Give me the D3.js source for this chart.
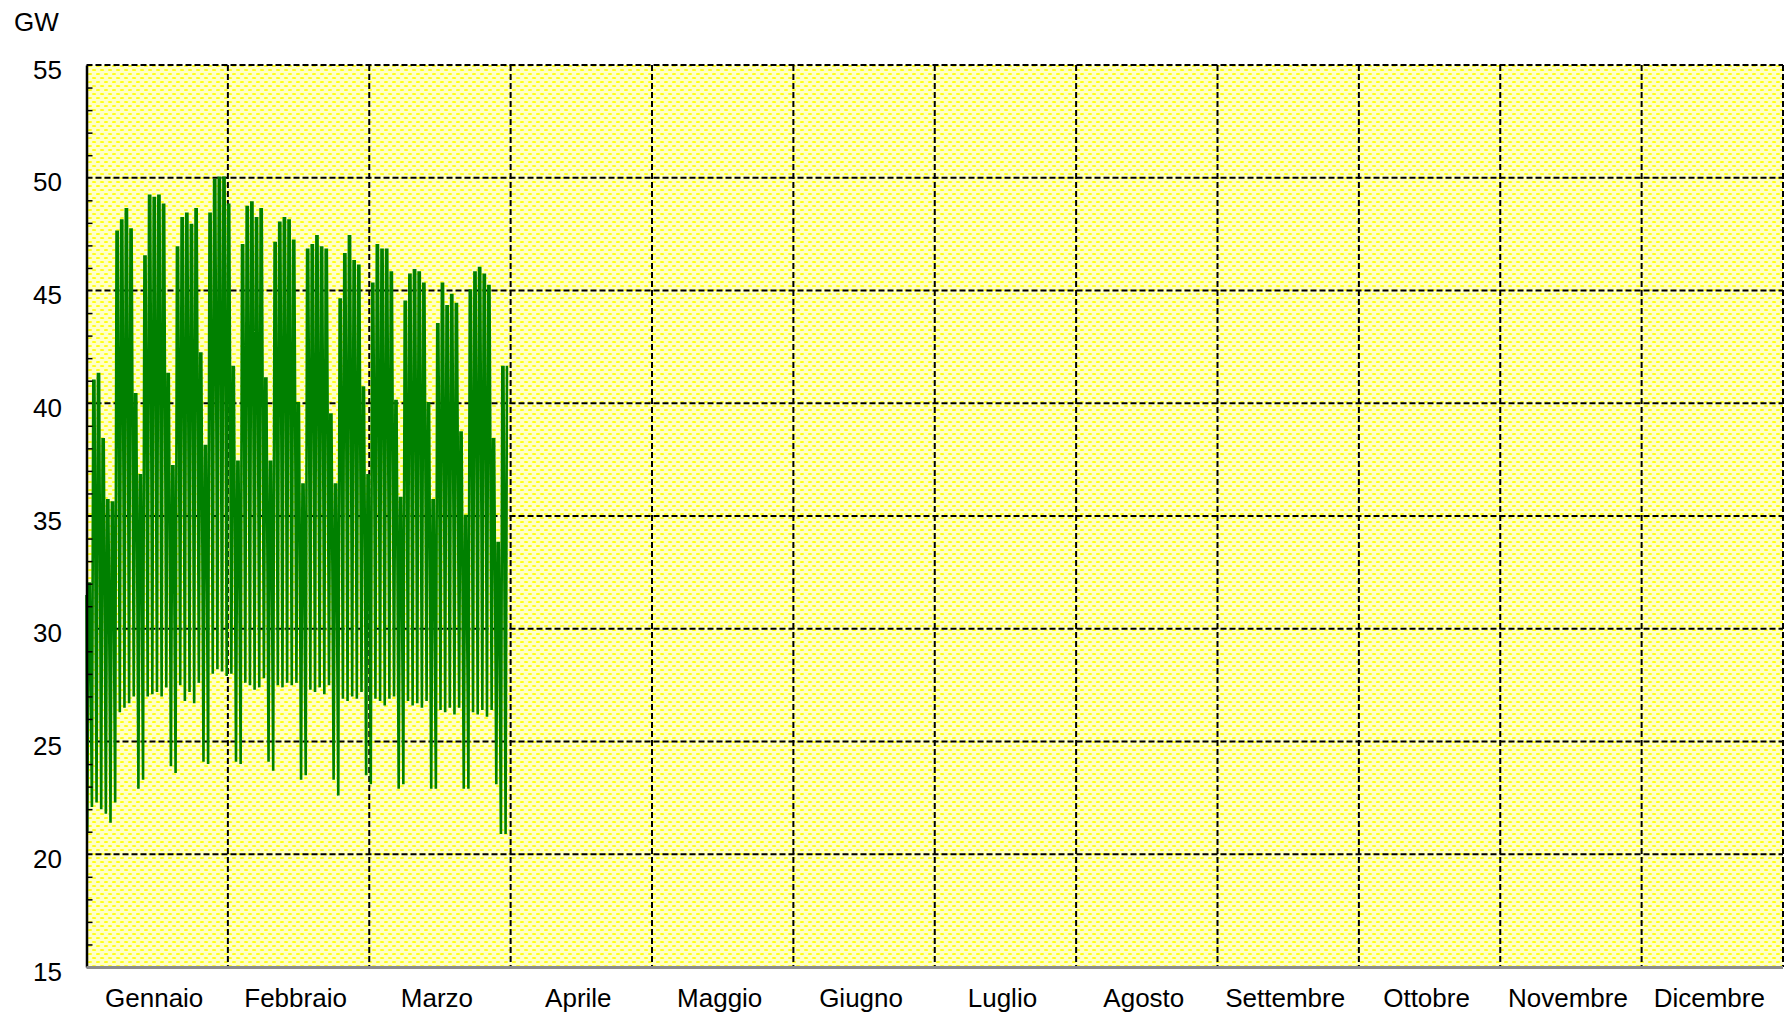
<!DOCTYPE html>
<html>
<head>
<meta charset="utf-8">
<script src="https://cdn.jsdelivr.net/npm/d3@7"></script>
<style>
  html, body { margin: 0; padding: 0; background: #ffffff; }
  svg { display: block; font-family: "Liberation Sans", Arial, sans-serif; }
</style>
</head>
<body>
<svg id="chart" width="1785" height="1015"></svg>
<script>
// Month labels along the x axis (equal-width bands)
const months = ["Gennaio", "Febbraio", "Marzo", "Aprile", "Maggio", "Giugno",
                "Luglio", "Agosto", "Settembre", "Ottobre", "Novembre", "Dicembre"];

// Y axis tick labels (GW)
const yTicks = [15, 20, 25, 30, 35, 40, 45, 50, 55];

// Load at midnight on 1 January (GW)
const startLoad = 31.5;

// Daily maximum load, GW, from 1 January
const dailyPeak = [
  // Gennaio
  32.0, 41.0, 41.3, 38.4, 35.7, 35.6, 47.6, 48.1, 48.6, 47.7, 40.4, 36.8, 46.5, 49.2, 49.1, 49.2,
  48.8, 41.3, 37.2, 46.9, 48.2, 48.4, 47.9, 48.6, 42.2, 38.1, 48.4, 49.9, 50.0, 50.0, 48.8,
  // Febbraio
  41.6, 37.4, 47.0, 48.7, 48.9, 48.2, 48.6, 41.1, 37.4, 47.1, 48.0, 48.2, 48.1, 47.2,
  40.0, 36.4, 46.8, 47.0, 47.4, 46.9, 46.8, 39.5, 36.4, 44.6, 46.6, 47.4, 46.3, 46.1,
  // Marzo
  40.7, 36.8, 45.3, 47.0, 46.8, 46.8, 45.8, 40.1, 35.8, 44.5, 45.7, 45.9, 45.8, 45.3, 40.0, 35.7,
  43.5, 45.3, 44.3, 44.8, 44.4, 38.7, 35.0, 45.0, 45.8, 46.0, 45.7, 45.2, 38.4, 33.8, 41.6,
  // Aprile (partial)
  41.6
];

// Daily minimum (night) load, GW, from 1 January
const dailyLow = [
  // Gennaio
  21.0, 22.1, 22.3, 22.0, 21.8, 21.4, 22.3, 26.3, 26.5, 26.7, 27.0, 22.9, 23.3, 27.0, 27.1, 27.2,
  27.0, 27.4, 23.9, 23.6, 27.5, 26.8, 27.2, 26.7, 27.6, 24.1, 24.0, 28.0, 28.2, 28.1, 27.9,
  // Febbraio
  28.0, 24.1, 24.0, 27.6, 27.5, 27.3, 27.4, 27.8, 24.1, 23.7, 27.5, 27.4, 27.6, 27.5,
  27.6, 23.3, 23.5, 27.3, 27.2, 27.4, 27.1, 27.5, 23.3, 22.6, 26.9, 26.8, 27.0, 26.9,
  // Marzo
  27.2, 23.5, 23.1, 26.9, 26.8, 26.6, 26.9, 27.0, 22.9, 23.1, 26.8, 26.6, 26.7, 26.5, 26.8, 22.9,
  22.9, 26.4, 26.3, 26.5, 26.2, 26.5, 22.9, 22.9, 26.3, 26.2, 26.4, 26.1, 26.4, 23.1, 20.9,
  // Aprile (partial)
  20.9
];

// Hours of the day at which the night minimum and the daytime maximum occur
const lowHour = 4, peakStartHour = 11, peakEndHour = 17;

const svg = d3.select("#chart");
const plot = { left: 86.5, right: 1783, top: 65, bottom: 967 };

const y = d3.scaleLinear().domain([15, 55]).range([plot.bottom, plot.top]);
const xMonth = d3.scaleBand().domain(months).range([plot.left, plot.right]).padding(0);
const xHour = d3.scaleLinear().domain([0, 365 * 24]).range([plot.left, plot.right]);

// Dotted yellow fill of the plotting area
const defs = svg.append("defs");
const pat = defs.append("pattern")
  .attr("id", "dots").attr("patternUnits", "userSpaceOnUse")
  .attr("width", 8).attr("height", 8);
pat.append("rect").attr("width", 8).attr("height", 8).attr("fill", "#ffffc8");
[[2, 2], [6, 6], [-2, 6], [10, 6]].forEach(([cx, cy]) => {
  pat.append("ellipse").attr("cx", cx).attr("cy", cy)
    .attr("rx", 2.2).attr("ry", 1.1).attr("fill", "#ffff10");
});

svg.append("rect")
  .attr("x", plot.left).attr("y", plot.top)
  .attr("width", plot.right - plot.left).attr("height", plot.bottom - plot.top)
  .attr("fill", "url(#dots)");

// Build the load series: start value, then each day's night low and daytime maximum
const series = [{ h: 0, v: startLoad }];
dailyLow.forEach((lo, i) => {
  series.push({ h: i * 24 + lowHour, v: lo });
  series.push({ h: i * 24 + peakStartHour, v: dailyPeak[i] });
  series.push({ h: i * 24 + peakEndHour, v: dailyPeak[i] });
});

const line = d3.line().x(d => xHour(d.h)).y(d => y(d.v));

// Dashed grid: horizontal at each labelled value, vertical at month boundaries
const grid = svg.append("g").attr("stroke", "#000").attr("stroke-width", 2)
  .attr("stroke-dasharray", "6,3").attr("fill", "none");

grid.selectAll("line.h").data(yTicks.filter(v => v > 15)).join("line")
  .attr("class", "h")
  .attr("x1", plot.left).attr("x2", plot.right)
  .attr("y1", d => y(d)).attr("y2", d => y(d));

const boundaries = months.slice(1).map(m => xMonth(m)).concat([plot.right]);
grid.selectAll("line.v").data(boundaries).join("line")
  .attr("class", "v")
  .attr("x1", d => d).attr("x2", d => d)
  .attr("y1", plot.top).attr("y2", plot.bottom);

// Load curve
svg.append("path")
  .datum(series)
  .attr("d", line)
  .attr("fill", "none")
  .attr("stroke", "#008000")
  .attr("stroke-width", 2.6)
  .attr("stroke-linejoin", "miter")
  .attr("stroke-miterlimit", 2);

// Minor ticks inside the left axis, every 1 GW
const minor = d3.range(16, 55).filter(v => v % 5 !== 0);
svg.append("g")
  .attr("transform", `translate(${plot.left},0)`)
  .call(d3.axisRight(y).tickValues(minor).tickSize(6).tickFormat(""))
  .call(g => g.select(".domain").remove())
  .call(g => g.selectAll("line").attr("stroke", "#000").attr("stroke-width", 1.5));

// Left axis with value labels
const yAxis = svg.append("g")
  .attr("transform", `translate(${plot.left},0)`)
  .call(d3.axisLeft(y).tickValues(yTicks).tickSize(0).tickPadding(24.5));
yAxis.select(".domain").attr("stroke", "#000").attr("stroke-width", 2.5);
yAxis.selectAll("text")
  .attr("font-size", 26).attr("fill", "#000")
  .attr("font-family", "Liberation Sans, Arial, sans-serif")
  .attr("dy", "0.5em");

// Bottom axis line and month labels centred in their bands
svg.append("line")
  .attr("x1", plot.left).attr("x2", plot.right)
  .attr("y1", plot.bottom + 0.5).attr("y2", plot.bottom + 0.5)
  .attr("stroke", "#8c8c8c").attr("stroke-width", 3);

const xAxis = svg.append("g")
  .attr("transform", `translate(0,${plot.bottom})`)
  .call(d3.axisBottom(xMonth).tickSize(0).tickPadding(0));
xAxis.select(".domain").remove();
xAxis.selectAll("text")
  .attr("font-size", 26).attr("fill", "#000")
  .attr("font-family", "Liberation Sans, Arial, sans-serif")
  .attr("dy", null)
  .attr("y", 40)
  .attr("dx", -3);

// Unit label
svg.append("text")
  .attr("x", 14).attr("y", 31)
  .attr("font-size", 26).attr("fill", "#000")
  .text("GW");
</script>
</body>
</html>
